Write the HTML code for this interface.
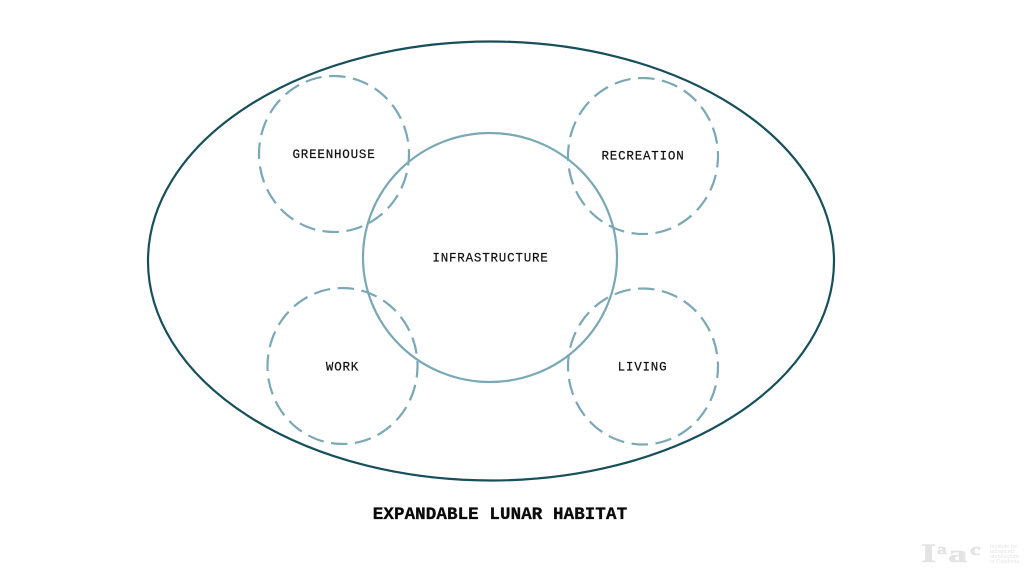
<!DOCTYPE html>
<html><head><meta charset="utf-8"><style>
html,body{margin:0;padding:0;background:#fff}
svg{display:block}
.l{font:12.5px "Liberation Mono",monospace;letter-spacing:.8px;fill:#111;stroke:#111;stroke-width:.2;text-anchor:middle}
.d{fill:none;stroke:#7aa8b4;stroke-width:2.2;stroke-dasharray:16.5 7.53;stroke-dashoffset:5}
</style></head><body>
<svg width="1024" height="576" viewBox="0 0 1024 576" xmlns="http://www.w3.org/2000/svg">
<rect width="1024" height="576" fill="#fff"/>
<ellipse cx="491" cy="261" rx="343" ry="219.5" fill="none" stroke="#174f5a" stroke-width="2.2"/>
<ellipse class="d" cx="334" cy="154" rx="75" ry="78"/>
<ellipse class="d" cx="643" cy="156" rx="75" ry="78"/>
<ellipse class="d" cx="342.500" cy="366" rx="75" ry="78"/>
<ellipse class="d" cx="643" cy="366.500" rx="75" ry="78"/>
<ellipse cx="490" cy="257.500" rx="127" ry="124.500" fill="none" stroke="#7aa8b4" stroke-width="2.2"/>
<text class="l" x="334" y="158">GREENHOUSE</text>
<text class="l" x="643" y="159.500">RECREATION</text>
<text class="l" x="490.500" y="261.500">INFRASTRUCTURE</text>
<text class="l" x="342.500" y="370.500">WORK</text>
<text class="l" x="642.500" y="370.500">LIVING</text>
<text x="500" y="519" text-anchor="middle" style="font:bold 17.5px 'Liberation Mono',monospace;letter-spacing:.1px;fill:#0a0a0a;stroke:#0a0a0a;stroke-width:.35">EXPANDABLE LUNAR HABITAT</text>
<g fill="#e4e4e4" stroke="#e4e4e4" stroke-width=".6">
<text transform="translate(921 562) scale(1.5 1)" style="font:bold 26px 'Liberation Serif',serif">I</text>
<text transform="translate(937 554) scale(1.3 1)" style="font:bold 15px 'Liberation Serif',serif">a</text>
<text transform="translate(948 562) scale(1.6 1)" style="font:bold 24px 'Liberation Serif',serif">a</text>
<text transform="translate(970 555) scale(1.4 1)" style="font:bold 17px 'Liberation Serif',serif">c</text>
</g>
<g fill="#e6e6e6" style="font:5.5px 'Liberation Sans',sans-serif">
<text x="990" y="548">Institute for</text>
<text x="990" y="553">advanced</text>
<text x="990" y="558">architecture</text>
<text x="990" y="563">of Catalonia</text>
</g>
</svg>
</body></html>
